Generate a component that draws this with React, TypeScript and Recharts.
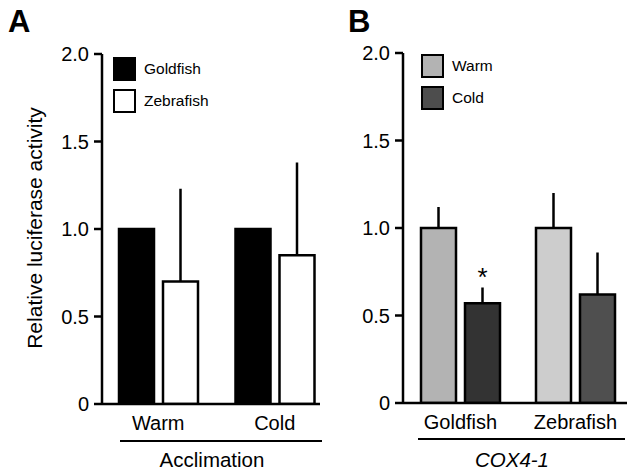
import { BarChart, Bar, XAxis, YAxis, Cell, ErrorBar, Legend, LabelList } from "recharts";

const font = "'Liberation Sans', Arial, Helvetica, sans-serif";

// panel A: luciferase activity by acclimation temperature
const acclimation = ["Warm", "Cold"];
const goldfishA = [1.0, 1.0];
const zebrafishA = [0.7, 0.85];
const zebrafishAErr = [0.53, 0.53];

// panel B: COX4-1 promoter, warm vs cold
const species = ["Goldfish", "Zebrafish"];
const warmB = [1.0, 1.0];
const warmBErr = [0.12, 0.2];
const coldB = [0.57, 0.62];
const coldBErr = [0.09, 0.24];
const coldSig = ["*", ""];
const warmColors = ["#b3b3b3", "#cdcdcd"];
const coldColors = ["#333333", "#4f4f4f"];

const yTicks = [0, 0.5, 1, 1.5, 2];

const dataA = acclimation.map((c, i) => ({
  cat: c,
  goldfish: goldfishA[i],
  zebrafish: zebrafishA[i],
  zebrafishErr: [0, zebrafishAErr[i]],
}));

const dataB = species.map((c, i) => ({
  cat: c,
  warm: warmB[i],
  warmErr: [0, warmBErr[i]],
  cold: coldB[i],
  coldErr: [0, coldBErr[i]],
  sig: coldSig[i],
}));

const legendA = [
  { name: "Goldfish", fill: "#000000" },
  { name: "Zebrafish", fill: "#ffffff" },
];
const legendB = [
  { name: "Warm", fill: "#b3b3b3" },
  { name: "Cold", fill: "#4d4d4d" },
];

const tickStyle = { fill: "#000", fontSize: 20, fontFamily: font };
const axisStroke = { stroke: "#000", strokeWidth: 2.5 };

function legendBox(items: { name: string; fill: string }[]) {
  return () => (
    <div style={{ fontFamily: font, fontSize: 15.5, color: "#000" }}>
      {items.map((it) => (
        <div key={it.name} style={{ display: "flex", alignItems: "center", height: 25, marginBottom: 7 }}>
          <div
            style={{
              width: 19,
              height: 20,
              background: it.fill,
              border: "2.5px solid #000",
              marginRight: 8,
            }}
          />
          <span>{it.name}</span>
        </div>
      ))}
    </div>
  );
}

const fmt = (v: number) => (v === 0 ? "0" : v.toFixed(1));

export default function App() {
  return (
    <div style={{ position: "absolute", left: 0, top: 0, width: 632, height: 472, background: "#fff", fontFamily: font }}>
      <div style={{ position: "absolute", left: 8, top: 4, fontSize: 31, fontWeight: "bold" }}>A</div>
      <div style={{ position: "absolute", left: 348, top: 4, fontSize: 31, fontWeight: "bold" }}>B</div>

      <div style={{ position: "absolute", left: 0, top: 0 }}>
        <BarChart
          width={330}
          height={472}
          data={dataA}
          margin={{ top: 54, right: 10, bottom: 38, left: 0 }}
          barSize={35}
          barGap={9}
        >
          <YAxis
            domain={[0, 2]}
            ticks={yTicks}
            tickFormatter={fmt}
            width={102}
            tick={tickStyle}
            tickSize={8}
            tickMargin={5}
            axisLine={axisStroke}
            tickLine={axisStroke}
            allowDataOverflow
          />
          <XAxis
            dataKey="cat"
            height={30}
            tick={tickStyle}
            tickLine={false}
            tickSize={0}
            tickMargin={12}
            axisLine={axisStroke}
            padding={{ left: -2, right: -13 }}
          />
          <Legend
            layout="vertical"
            align="center"
            verticalAlign="middle"
            content={legendBox(legendA)}
            wrapperStyle={{ left: 113, top: 56, width: 120 }}
          />
          <Bar dataKey="goldfish" fill="#000" stroke="#000" strokeWidth={2.5} isAnimationActive={false} />
          <Bar dataKey="zebrafish" fill="#fff" stroke="#000" strokeWidth={2.5} isAnimationActive={false}>
            <ErrorBar dataKey="zebrafishErr" width={0} stroke="#000" strokeWidth={2.5} />
          </Bar>
        </BarChart>
      </div>

      <div style={{ position: "absolute", left: 300, top: 0 }}>
        <BarChart
          width={332}
          height={472}
          data={dataB}
          margin={{ top: 53, right: 5, bottom: 39, left: 0 }}
          barSize={35}
          barGap={9}
        >
          <YAxis
            domain={[0, 2]}
            ticks={yTicks}
            tickFormatter={fmt}
            width={103}
            tick={tickStyle}
            tickSize={8}
            tickMargin={5}
            axisLine={axisStroke}
            tickLine={axisStroke}
            allowDataOverflow
          />
          <XAxis
            dataKey="cat"
            height={30}
            tick={tickStyle}
            tickLine={false}
            tickSize={0}
            tickMargin={12}
            axisLine={axisStroke}
            padding={{ left: 0, right: -6 }}
          />
          <Legend
            layout="vertical"
            align="center"
            verticalAlign="middle"
            content={legendBox(legendB)}
            wrapperStyle={{ left: 121, top: 53, width: 120 }}
          />
          <Bar dataKey="warm" stroke="#000" strokeWidth={2.5} isAnimationActive={false}>
            {warmColors.map((c, i) => (
              <Cell key={i} fill={c} />
            ))}
            <ErrorBar dataKey="warmErr" width={0} stroke="#000" strokeWidth={2.5} />
          </Bar>
          <Bar dataKey="cold" stroke="#000" strokeWidth={2.5} isAnimationActive={false}>
            {coldColors.map((c, i) => (
              <Cell key={i} fill={c} />
            ))}
            <ErrorBar dataKey="coldErr" width={0} stroke="#000" strokeWidth={2.5} />
            <LabelList dataKey="sig" position="top" offset={17} fill="#000" fontSize={26} fontFamily={font} />
          </Bar>
        </BarChart>
      </div>

      {/* y axis title */}
      <div
        style={{
          position: "absolute",
          left: 35,
          top: 228,
          fontSize: 21,
          whiteSpace: "nowrap",
          transform: "translate(-50%, -50%) rotate(-90deg)",
        }}
      >
        Relative luciferase activity
      </div>

      {/* group underlines and titles */}
      <div style={{ position: "absolute", left: 120, top: 440, width: 202, height: 2, background: "#000" }} />
      <div style={{ position: "absolute", left: 212, top: 460, fontSize: 20.5, transform: "translate(-50%, -50%)", whiteSpace: "nowrap" }}>
        Acclimation
      </div>
      <div style={{ position: "absolute", left: 418, top: 438, width: 207, height: 2, background: "#000" }} />
      <div
        style={{
          position: "absolute",
          left: 512,
          top: 460,
          fontSize: 20.5,
          fontStyle: "italic",
          transform: "translate(-50%, -50%)",
          whiteSpace: "nowrap",
        }}
      >
        COX4-1
      </div>
    </div>
  );
}
